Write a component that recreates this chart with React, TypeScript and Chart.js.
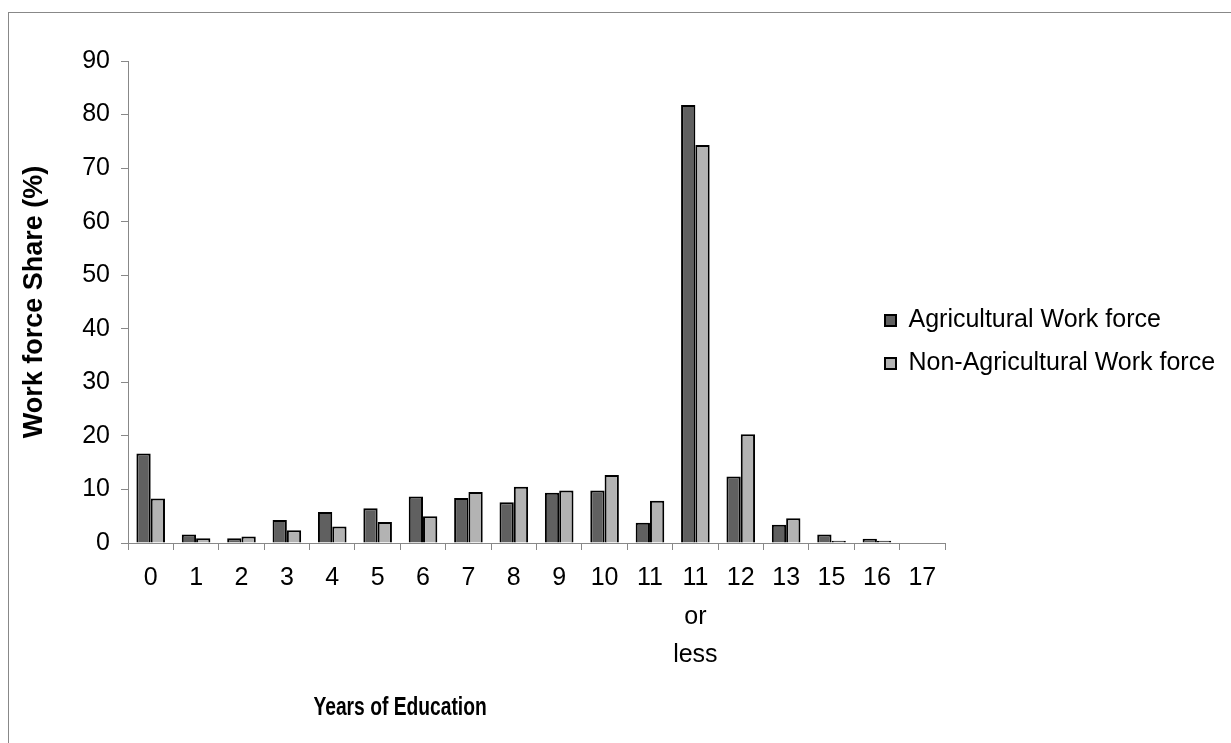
import React, { useEffect, useRef } from 'react';
import { Chart, registerables } from 'chart.js';

Chart.register(...registerables);

const categories: (string | string[])[] = [
  '0', '1', '2', '3', '4', '5', '6', '7', '8', '9', '10', '11',
  ['11', 'or', 'less'], '12', '13', '15', '16', '17',
];
const agricultural = [16.7, 1.6, 0.9, 4.3, 5.8, 6.5, 8.7, 8.4, 7.6, 9.4, 9.8, 3.8, 81.8, 12.4, 3.4, 1.6, 0.8, 0];
const nonAgricultural = [8.3, 0.9, 1.2, 2.4, 3.1, 3.9, 5.0, 9.5, 10.5, 9.8, 12.7, 7.9, 74.3, 20.3, 4.6, 0.4, 0.4, 0];
const seriesNames = ['Agricultural Work force', 'Non-Agricultural Work force'];
const yMin = 0;
const yMax = 90;
const yStep = 10;
const xTitle = 'Years of Education';
const yTitle = 'Work force Share (%)';

const FONT = '"Liberation Sans", Arial, Helvetica, sans-serif';

export default function App() {
  const ref = useRef<HTMLCanvasElement>(null);

  useEffect(() => {
    const canvas = ref.current;
    if (!canvas) return;
    Chart.defaults.font.family = FONT;
    Chart.defaults.color = '#000';

    const legendPlace = {
      id: 'legendPlace',
      afterLayout(chart: any) {
        const lg = chart.legend;
        if (!lg) return;
        const w = lg.width;
        const h = lg.height;
        lg.left = chart.chartArea.left + 739;
        lg.top = chart.chartArea.top + 229;
        lg.right = lg.left + w;
        lg.bottom = lg.top + h;
      },
    };

    const xTitlePlugin = {
      id: 'xTitlePlugin',
      afterDraw(chart: any) {
        const { ctx, chartArea } = chart;
        ctx.save();
        ctx.font = `bold 25px ${FONT}`;
        ctx.fillStyle = '#000';
        ctx.textAlign = 'center';
        ctx.textBaseline = 'alphabetic';
        const x = chartArea.left + (chartArea.right - chartArea.left) * 0.333;
        const y = chartArea.bottom + 172;
        ctx.translate(x, y);
        ctx.scale(0.77, 1);
        ctx.fillText(xTitle, 0, 0);
        ctx.restore();
      },
    };

    const chart = new Chart(canvas, {
      type: 'bar',
      data: {
        labels: categories,
        datasets: [
          {
            label: seriesNames[0],
            data: agricultural,
            backgroundColor: '#606060',
            borderColor: '#000',
            borderWidth: 2,
            categoryPercentage: 0.63,
            barPercentage: 1,
          },
          {
            label: seriesNames[1],
            data: nonAgricultural,
            backgroundColor: '#b3b3b3',
            borderColor: '#000',
            borderWidth: 2,
            categoryPercentage: 0.63,
            barPercentage: 1,
          },
        ],
      },
      options: {
        responsive: false,
        animation: false,
        layout: { padding: { left: 9, top: 48, right: 304, bottom: 71 } },
        plugins: {
          legend: {
            position: 'chartArea' as any,
            align: 'start',
            labels: {
              boxWidth: 11,
              boxHeight: 11,
              padding: 18,
              color: '#000',
              font: { size: 25, family: FONT },
            },
          },
          tooltip: { enabled: false },
        },
        scales: {
          x: {
            grid: { drawOnChartArea: false, drawTicks: true, tickLength: 7, color: '#888', offset: true },
            border: { color: '#888', width: 1 },
            ticks: {
              color: '#000',
              font: { size: 25, lineHeight: 1.54, family: FONT },
              padding: 9,
              maxRotation: 0,
              autoSkip: false,
            },
            afterFit(s: any) {
              s.height = 139;
            },
          },
          y: {
            min: yMin,
            max: yMax,
            ticks: { stepSize: yStep, color: '#000', font: { size: 25, family: FONT }, padding: 11 },
            grid: { drawOnChartArea: false, drawTicks: true, tickLength: 7, color: '#888' },
            border: { color: '#888', width: 1 },
            title: {
              display: true,
              text: yTitle,
              color: '#000',
              font: { size: 27, weight: 'bold', lineHeight: 1.2, family: FONT },
              padding: { top: 0, bottom: 21 },
            },
            afterFit(s: any) {
              s.width = 110;
            },
          },
        },
      },
      plugins: [legendPlace, xTitlePlugin],
    });

    return () => chart.destroy();
  }, []);

  return (
    <div style={{ position: 'fixed', left: 0, top: 0, right: 0, bottom: 0, overflow: 'hidden', background: '#fff' }}>
      <div
        style={{
          position: 'absolute',
          left: 8,
          top: 12,
          width: 1260,
          height: 760,
          border: '1px solid #888',
          background: '#fff',
        }}
      >
        <canvas ref={ref} width={1240} height={740} style={{ display: 'block', width: 1240, height: 740 }} />
      </div>
    </div>
  );
}
